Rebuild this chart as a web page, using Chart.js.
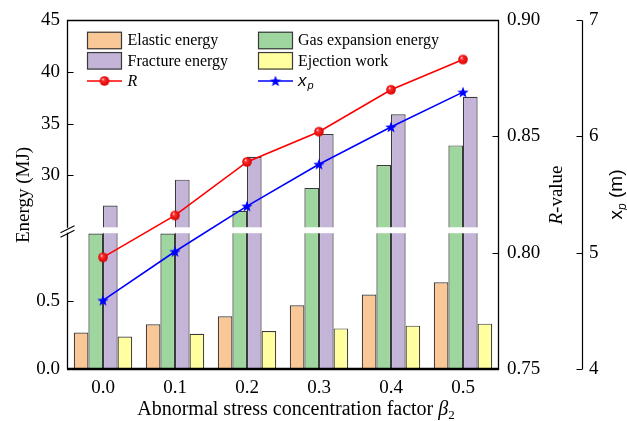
<!DOCTYPE html>
<html>
<head>
<meta charset="utf-8">
<script src="https://cdn.jsdelivr.net/npm/chart.js@4/dist/chart.umd.min.js"></script>
<style>
  html, body { margin: 0; padding: 0; background: #fff; }
  canvas { display: block; }
</style>
</head>
<body>
<canvas id="chart" width="627" height="421"></canvas>
<script>
// ---- data ----
const factors = ['0.0', '0.1', '0.2', '0.3', '0.4', '0.5'];
const elasticEnergy = [0.27, 0.33, 0.39, 0.47, 0.55, 0.64];
const gasExpansionEnergy = [22.0, 24.0, 26.6, 28.8, 31.0, 32.9];
const fractureEnergy = [27.1, 29.6, 31.8, 34.0, 35.9, 37.6];
const ejectionWork = [0.24, 0.26, 0.28, 0.30, 0.32, 0.335];
const rValue = [0.798, 0.816, 0.839, 0.852, 0.870, 0.883];
const xpDistance = [4.59, 5.01, 5.40, 5.76, 6.08, 6.38];

const energyTicks = [0, 0.5, 30, 35, 40, 45];
const rTicks = [0.75, 0.80, 0.85, 0.90];
const xpTicks = [4, 5, 6, 7];

// broken energy axis: lower segment and upper segment
const lowerSegment = [0, 1];
const upperSegment = [25, 45];

// ---- styling ----
const SERIF = "'Liberation Serif', 'Times New Roman', serif";
const SANS = "'Liberation Sans', Arial, sans-serif";
const LOW_FRAC = 0.388;   // share of axis height used by the lower segment
const HIGH_FRAC = 0.594;  // share of axis height used by the upper segment
const GAP = [227.3, 233.2];

Chart.defaults.font.family = SERIF;
Chart.defaults.color = '#000';

// ---- a linear scale with a break between two value ranges ----
const LinearScale = Chart.registry.getScale('linear');
class BrokenLinearScale extends LinearScale {
  _segs() {
    const h = this.bottom - this.top;
    return { lowTop: this.bottom - h * LOW_FRAC, highBottom: this.top + h * HIGH_FRAC };
  }
  getPixelForValue(value) {
    if (value === null || value === undefined || isNaN(value)) return NaN;
    const { lowTop, highBottom } = this._segs();
    if (value <= lowerSegment[1]) {
      return this.bottom - (value - lowerSegment[0]) / (lowerSegment[1] - lowerSegment[0]) * (this.bottom - lowTop);
    }
    if (value < upperSegment[0]) return lowTop;
    return highBottom - (value - upperSegment[0]) / (upperSegment[1] - upperSegment[0]) * (highBottom - this.top);
  }
  getValueForPixel(pixel) {
    const { lowTop, highBottom } = this._segs();
    if (pixel >= lowTop) {
      return lowerSegment[0] + (this.bottom - pixel) / (this.bottom - lowTop) * (lowerSegment[1] - lowerSegment[0]);
    }
    if (pixel > highBottom) return upperSegment[0];
    return upperSegment[0] + (highBottom - pixel) / (highBottom - this.top) * (upperSegment[1] - upperSegment[0]);
  }
}
BrokenLinearScale.id = 'brokenLinear';
BrokenLinearScale.defaults = LinearScale.defaults;
Chart.register(BrokenLinearScale);

// ---- point marker images ----
function makeBall(r) {
  const s = Math.ceil(2 * r + 2);
  const c = document.createElement('canvas');
  c.width = c.height = s;
  const g = c.getContext('2d');
  const m = s / 2;
  const grad = g.createRadialGradient(m - r * 0.35, m - r * 0.4, r * 0.05, m, m, r);
  grad.addColorStop(0, '#ffd0d0');
  grad.addColorStop(0.3, '#ff2a2a');
  grad.addColorStop(1, '#d80000');
  g.fillStyle = grad;
  g.beginPath();
  g.arc(m, m, r, 0, Math.PI * 2);
  g.fill();
  return c;
}
function makeStar(R, color) {
  const s = Math.ceil(2 * R + 2);
  const c = document.createElement('canvas');
  c.width = c.height = s;
  const g = c.getContext('2d');
  const m = s / 2;
  g.fillStyle = color;
  g.beginPath();
  for (let i = 0; i < 10; i++) {
    const rad = i % 2 === 0 ? R : R * 0.42;
    const a = -Math.PI / 2 + i * Math.PI / 5;
    const px = m + rad * Math.cos(a), py = m + 0.5 + rad * Math.sin(a);
    if (i === 0) g.moveTo(px, py); else g.lineTo(px, py);
  }
  g.closePath();
  g.fill();
  return c;
}
const ballImg = makeBall(4.8);
const starImg = makeStar(6, '#0000ff');

const barColors = {
  elastic: '#fac896',
  gas: '#9fd69f',
  fracture: '#c3b4d8',
  ejection: '#ffffa0'
};

// ---- helpers ----
function drawRich(ctx, parts, x, y, angle) {
  ctx.save();
  ctx.translate(x, y);
  ctx.rotate(angle || 0);
  let total = 0;
  parts.forEach(p => { ctx.font = p.font; p.w = ctx.measureText(p.text).width; total += p.w; });
  let cx = -total / 2;
  ctx.textAlign = 'left';
  ctx.textBaseline = 'alphabetic';
  ctx.fillStyle = '#000';
  parts.forEach(p => { ctx.font = p.font; ctx.fillText(p.text, cx, p.dy || 0); cx += p.w; });
  ctx.restore();
}

// white band across bars at the axis break
const breakBandPlugin = {
  id: 'breakBand',
  afterDatasetDraw(chart, args) {
    const meta = args.meta;
    if (meta.type !== 'bar') return;
    const ctx = chart.ctx;
    ctx.save();
    ctx.fillStyle = '#fff';
    meta.data.forEach(el => {
      if (el.y < GAP[1]) {
        ctx.fillRect(el.x - el.width / 2 - 1, GAP[0], el.width + 2, GAP[1] - GAP[0]);
      }
    });
    ctx.restore();
  }
};

// frame, inward tick marks and break symbol
const framePlugin = {
  id: 'frame',
  afterDraw(chart) {
    const ctx = chart.ctx;
    const a = chart.chartArea;
    const y = chart.scales.y, r = chart.scales.rAxis, xp = chart.scales.xpAxis;
    const L = Math.round(a.left) + 0.5, R = Math.round(a.right) - 0.5;
    const T = Math.round(a.top) + 0.5, B = Math.round(a.bottom);
    ctx.save();
    ctx.strokeStyle = '#000';
    ctx.lineWidth = 1.3;
    ctx.beginPath();
    ctx.moveTo(L, B); ctx.lineTo(L, T); ctx.lineTo(R, T); ctx.lineTo(R, B);
    ctx.stroke();
    ctx.lineWidth = 2.6;
    ctx.beginPath();
    ctx.moveTo(L - 0.5, B); ctx.lineTo(R + 0.6, B);
    ctx.stroke();

    ctx.lineWidth = 1.2;
    ctx.beginPath();
    energyTicks.forEach(v => {
      const py = Math.round(y.getPixelForValue(v)) + 0.5;
      ctx.moveTo(L, py); ctx.lineTo(L + 6, py);
    });
    rTicks.forEach(v => {
      const py = Math.round(r.getPixelForValue(v)) + 0.5;
      ctx.moveTo(R, py); ctx.lineTo(R - 6, py);
    });
    const X2 = Math.round(xp.left) + 0.5;
    ctx.moveTo(X2, T); ctx.lineTo(X2, B);
    xpTicks.forEach(v => {
      const py = Math.round(xp.getPixelForValue(v)) + 0.5;
      ctx.moveTo(X2, py); ctx.lineTo(X2 - 6, py);
    });
    ctx.stroke();

    // break symbol on the energy axis
    ctx.fillStyle = '#fff';
    ctx.fillRect(L - 2, GAP[0] + 0.5, 4, GAP[1] - GAP[0] - 1);
    ctx.lineWidth = 1.1;
    ctx.beginPath();
    ctx.moveTo(L - 7, GAP[0] + 5.5); ctx.lineTo(L + 7, GAP[0] - 1.5);
    ctx.moveTo(L - 7, GAP[1] + 4); ctx.lineTo(L + 7, GAP[1] - 3);
    ctx.stroke();
    ctx.restore();
  }
};

// axis titles
const titlePlugin = {
  id: 'axisTitles',
  afterDraw(chart) {
    const ctx = chart.ctx;
    const a = chart.chartArea;
    const midY = (a.top + a.bottom) / 2;
    drawRich(ctx, [{ text: 'Energy (MJ)', font: `19px ${SERIF}` }], 28.5, midY + 0.5, -Math.PI / 2);
    drawRich(ctx, [
      { text: 'R', font: `italic 19px ${SERIF}` },
      { text: '-value', font: `19px ${SERIF}` }
    ], 561.5, midY + 0.5, -Math.PI / 2);
    drawRich(ctx, [
      { text: 'x', font: `19px ${SANS}` },
      { text: 'p', font: `italic 12px ${SANS}`, dy: 4 },
      { text: ' (m)', font: `19px ${SANS}` }
    ], 621.5, midY, -Math.PI / 2);
    drawRich(ctx, [
      { text: 'Abnormal stress concentration factor ', font: `20px ${SERIF}` },
      { text: '\u03B2', font: `italic 20px ${SERIF}` },
      { text: '2', font: `13px ${SERIF}`, dy: 4 }
    ], 296, 415);
  }
};

// legend in two columns
const legendPlugin = {
  id: 'twoColumnLegend',
  afterDraw(chart) {
    const ctx = chart.ctx;
    const ds = chart.data.datasets;
    const byLabel = l => ds.find(d => d.label === l);
    const rows = [40.5, 60.8, 81];
    const cols = [{ x: 87, tx: 127.5 }, { x: 258, tx: 298 }];
    const boxW = 35, boxH = 17.5;
    const boxItems = [
      ['Elastic energy', 0, 0], ['Gas expansion energy', 1, 0],
      ['Fracture energy', 0, 1], ['Ejection work', 1, 1]
    ];
    ctx.save();
    ctx.textBaseline = 'middle';
    ctx.textAlign = 'left';
    boxItems.forEach(([label, c, r]) => {
      const d = byLabel(label);
      const x = cols[c].x, yc = rows[r];
      ctx.fillStyle = d.backgroundColor;
      ctx.fillRect(x, yc - boxH / 2, boxW, boxH);
      ctx.strokeStyle = '#3a3a3a';
      ctx.lineWidth = 1.2;
      ctx.strokeRect(x + 0.5, yc - boxH / 2 + 0.5, boxW - 1, boxH - 1);
      ctx.fillStyle = '#000';
      ctx.font = `16px ${SERIF}`;
      ctx.fillText(label, cols[c].tx, yc + 0.5);
    });
    // line entries
    const lineItems = [
      { d: ds[0], c: 0, img: ballImg },
      { d: ds[1], c: 1, img: starImg }
    ];
    lineItems.forEach(({ d, c, img }) => {
      const x = cols[c].x, yc = rows[2];
      ctx.strokeStyle = d.borderColor;
      ctx.lineWidth = 1.6;
      ctx.beginPath();
      ctx.moveTo(x, yc); ctx.lineTo(x + boxW, yc);
      ctx.stroke();
      ctx.drawImage(img, x + boxW / 2 - img.width / 2, yc - img.height / 2);
    });
    ctx.fillStyle = '#000';
    ctx.font = `italic 16px ${SERIF}`;
    ctx.fillText('R', cols[0].tx, rows[2] + 0.5);
    ctx.font = `italic 17px ${SANS}`;
    ctx.fillText('x', cols[1].tx, rows[2]);
    const xw = ctx.measureText('x').width;
    ctx.font = `italic 11px ${SANS}`;
    ctx.fillText('p', cols[1].tx + xw + 1, rows[2] + 5);
    ctx.restore();
  }
};

const tickFont = { size: 19, family: SERIF };

new Chart(document.getElementById('chart'), {
  data: {
    labels: factors,
    datasets: [
      {
        type: 'line', label: 'R', data: rValue, yAxisID: 'rAxis', order: 0,
        borderColor: '#ff0000', borderWidth: 1.6, pointStyle: ballImg,
        pointRadius: 5, tension: 0, fill: false
      },
      {
        type: 'line', label: 'xp', data: xpDistance, yAxisID: 'xpAxis', order: 0,
        borderColor: '#0000ff', borderWidth: 1.6, pointStyle: starImg,
        pointRadius: 6, tension: 0, fill: false
      },
      { type: 'bar', label: 'Elastic energy', data: elasticEnergy, yAxisID: 'y', order: 1, backgroundColor: barColors.elastic },
      { type: 'bar', label: 'Gas expansion energy', data: gasExpansionEnergy, yAxisID: 'y', order: 1, backgroundColor: barColors.gas },
      { type: 'bar', label: 'Fracture energy', data: fractureEnergy, yAxisID: 'y', order: 1, backgroundColor: barColors.fracture },
      { type: 'bar', label: 'Ejection work', data: ejectionWork, yAxisID: 'y', order: 1, backgroundColor: barColors.ejection }
    ]
  },
  options: {
    responsive: false,
    animation: false,
    layout: { padding: { top: 20, left: 0, right: 0, bottom: 0 } },
    plugins: { legend: { display: false }, tooltip: { enabled: false } },
    datasets: {
      bar: { barPercentage: 1, categoryPercentage: 0.812, borderWidth: 1.2, borderColor: '#3a3a3a' }
    },
    scales: {
      x: {
        type: 'category', offset: true,
        grid: { display: false, drawTicks: false }, border: { display: false },
        ticks: { font: tickFont, color: '#000', padding: 8, maxRotation: 0 },
        afterFit(s) { s.height = 52; }
      },
      y: {
        type: 'brokenLinear', position: 'left', min: 0, max: 45,
        grid: { display: false, drawTicks: false }, border: { display: false },
        ticks: {
          font: tickFont, color: '#000', padding: 7, autoSkip: false,
          callback: v => (v < 1 ? v.toFixed(1) : String(v))
        },
        afterBuildTicks(s) { s.ticks = energyTicks.map(v => ({ value: v })); },
        afterFit(s) { s.width = 67; }
      },
      rAxis: {
        type: 'linear', axis: 'y', position: 'right', weight: 0, min: 0.75, max: 0.90,
        grid: { display: false, drawTicks: false }, border: { display: false },
        ticks: { font: tickFont, color: '#000', padding: 8, autoSkip: false, callback: v => Number(v).toFixed(2) },
        afterBuildTicks(s) { s.ticks = rTicks.map(v => ({ value: v })); },
        afterFit(s) { s.width = 83; }
      },
      xpAxis: {
        type: 'linear', axis: 'y', position: 'right', weight: 1, min: 4, max: 7,
        grid: { display: false, drawTicks: false }, border: { display: false },
        ticks: { font: tickFont, color: '#000', padding: 7, autoSkip: false, callback: v => String(v) },
        afterBuildTicks(s) { s.ticks = xpTicks.map(v => ({ value: v })); },
        afterFit(s) { s.width = 45; }
      }
    }
  },
  plugins: [breakBandPlugin, framePlugin, titlePlugin, legendPlugin]
});
</script>
</body>
</html>
